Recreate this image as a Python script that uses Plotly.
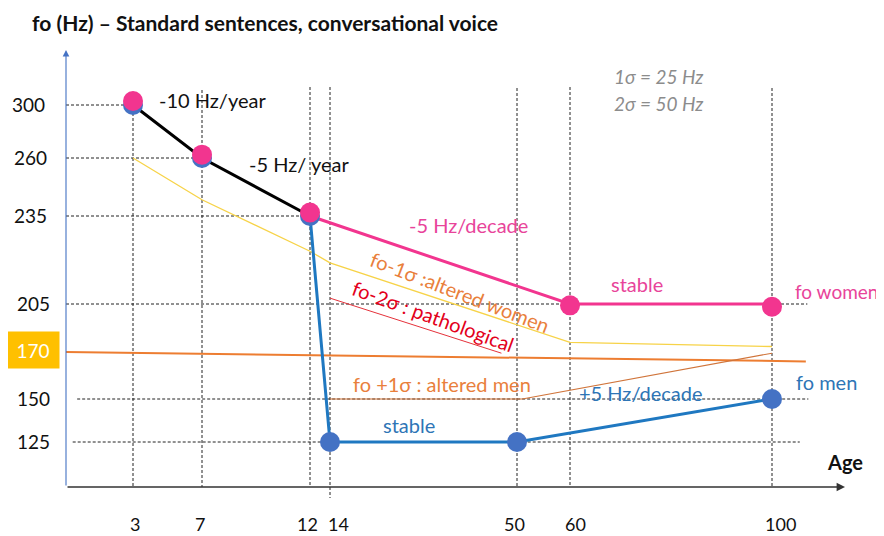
import numpy as np
import plotly.graph_objects as go

# ---------------- data ----------------
AGE_TICKS = [3, 7, 12, 14, 50, 60, 100]
AGE_TICK_LABELS = ["3", "7", "12", "14", "50", "60", "100"]
HZ_TICKS = [300, 260, 235, 205, 170, 150, 125]
HZ_TICK_LABELS = ["300", "260", "235", "205", "170", "150", "125"]

CHILD_AGES = [3, 7, 12]
CHILD_HZ = [300, 260, 235]

MEN_AGES = [12, 14, 50, 100]
MEN_HZ = [235, 125, 125, 150]
MEN_POINT_AGES = [3, 7, 12, 14, 50, 100]
MEN_POINT_HZ = [300, 260, 235, 125, 125, 150]

WOMEN_AGES = [12, 60, 100]
WOMEN_HZ = [235, 205, 205]
WOMEN_POINT_AGES = [3, 7, 12, 60, 100]
WOMEN_POINT_HZ = [303, 262.5, 236.5, 204, 203]

WOMEN_M1SD_AGES = [3, 7, 12, 14, 60, 100]
WOMEN_M1SD_HZ = [260, 242, 223, 219, 177, 174]

WOMEN_M2SD_AGES = [14, 47]
WOMEN_M2SD_HZ = [207, 169.5]

MEN_P1SD_AGES = [14, 51, 100]
MEN_P1SD_HZ = [150, 150, 169.5]

THRESH_AGES = [0, 106.7]
THRESH_HZ = [170, 166]

# ---------------- hand-drawn (non-linear) scales ----------------
_AGE_K = [0, 3, 7, 12, 14, 50, 60, 100, 110]
_AGE_P = [66, 133, 202, 310, 330, 517, 570, 772, 822.5]
_HZ_K = [100, 125, 150, 170, 205, 235, 260, 300, 320]
_HZ_P = [485, 442, 399, 352, 304, 216, 158, 105, 78.5]


def fx(a):
    return np.interp(np.asarray(a, dtype=float), _AGE_K, _AGE_P)


def fy(h):
    return np.interp(np.asarray(h, dtype=float), _HZ_K, _HZ_P)


FONT = "Lato, 'Open Sans', sans-serif"
PINK = "#F2358F"
PINK_TXT = "#E8449A"
BLUE_LINE = "#1F78C1"
BLUE_DOT = "#4472C4"
BLUE_TXT = "#2E75B6"
ORANGE = "#ED7D31"
ORANGE_TXT = "#E97F3C"
TS = 20  # general text size

fig = go.Figure()

# thin reference lines
fig.add_trace(go.Scatter(x=fx(WOMEN_M1SD_AGES), y=fy(WOMEN_M1SD_HZ), mode="lines",
                         line=dict(color="#F7D348", width=1.3), hoverinfo="skip"))
fig.add_trace(go.Scatter(x=fx(THRESH_AGES), y=fy(THRESH_HZ), mode="lines",
                         line=dict(color=ORANGE, width=2), hoverinfo="skip"))
fig.add_trace(go.Scatter(x=fx(MEN_P1SD_AGES), y=fy(MEN_P1SD_HZ), mode="lines",
                         line=dict(color="#D0743A", width=1.1), hoverinfo="skip"))
fig.add_trace(go.Scatter(x=fx(WOMEN_M2SD_AGES), y=fy(WOMEN_M2SD_HZ), mode="lines",
                         line=dict(color="#E5323B", width=1), hoverinfo="skip"))

# main curves
fig.add_trace(go.Scatter(x=fx(CHILD_AGES), y=fy(CHILD_HZ), mode="lines",
                         line=dict(color="black", width=3), hoverinfo="skip"))
fig.add_trace(go.Scatter(x=fx(WOMEN_AGES), y=fy(WOMEN_HZ), mode="lines",
                         line=dict(color=PINK, width=3), hoverinfo="skip"))
fig.add_trace(go.Scatter(x=fx(MEN_AGES), y=fy(MEN_HZ), mode="lines",
                         line=dict(color=BLUE_LINE, width=3), hoverinfo="skip"))
fig.add_trace(go.Scatter(x=fx(MEN_POINT_AGES), y=fy(MEN_POINT_HZ), mode="markers",
                         marker=dict(color=BLUE_DOT, size=20, line=dict(width=0)), hoverinfo="skip"))
fig.add_trace(go.Scatter(x=fx(WOMEN_POINT_AGES), y=fy(WOMEN_POINT_HZ), mode="markers",
                         marker=dict(color=PINK, size=20, line=dict(width=0)), hoverinfo="skip"))

# ---------------- dashed grid ----------------
shapes = []
GRID = dict(color="#222222", width=1, dash="3px,2px")
GRID_TOP = 87
X_AXIS_Y = 487
vert_tops = [fy(300) + 3, 90, GRID_TOP, GRID_TOP, 88, GRID_TOP, 88]
vert_bottoms = [X_AXIS_Y, X_AXIS_Y, X_AXIS_Y, 498, X_AXIS_Y, X_AXIS_Y, X_AXIS_Y]
for a, t, b in zip(AGE_TICKS, vert_tops, vert_bottoms):
    shapes.append(dict(type="line", xref="x", yref="y", x0=float(fx(a)), x1=float(fx(a)),
                       y0=float(t), y1=float(b), line=GRID, layer="below"))
horiz_spans = {300: (0, 3), 260: (0, 7), 235: (0, 12), 205: (0, 107),
               150: (0.5, 107.2), 125: (0.3, 105.5)}
for h, (a0, a1) in horiz_spans.items():
    shapes.append(dict(type="line", xref="x", yref="y", x0=float(fx(a0)), x1=float(fx(a1)),
                       y0=float(fy(h)), y1=float(fy(h)), line=GRID, layer="below"))

annotations = []

# axes with arrows
annotations.append(dict(x=66, y=50, ax=66, ay=X_AXIS_Y, xref="x", yref="y", axref="x", ayref="y",
                        text="", showarrow=True, arrowhead=2, arrowsize=1.2, arrowwidth=1.1,
                        arrowcolor="#4472C4"))
annotations.append(dict(x=845, y=X_AXIS_Y, ax=66, ay=X_AXIS_Y, xref="x", yref="y", axref="x", ayref="y",
                        text="", showarrow=True, arrowhead=2, arrowsize=1.2, arrowwidth=1.4,
                        arrowcolor="#333333"))

# tick labels
x_label_shift = [2, -2, -3, 8, -3, 5, 8]
for a, lab, s in zip(AGE_TICKS, AGE_TICK_LABELS, x_label_shift):
    annotations.append(dict(x=float(fx(a)) + s, y=524, xref="x", yref="y", text=lab, showarrow=False,
                            font=dict(family=FONT, size=18, color="#111111"),
                            xanchor="center", yanchor="middle"))
y_label_x = [28, 30, 30, 33, 33, 33, 33]
for h, lab, lx in zip(HZ_TICKS, HZ_TICK_LABELS, y_label_x):
    if h == 170:
        annotations.append(dict(x=33, y=float(fy(h)) - 2, xref="x", yref="y", text=lab, showarrow=False,
                                font=dict(family=FONT, size=19, color="white"),
                                bgcolor="#FFC000", width=50, height=34, borderpad=1,
                                xanchor="center", yanchor="middle"))
    else:
        annotations.append(dict(x=lx, y=float(fy(h)) - 1, xref="x", yref="y", text=lab, showarrow=False,
                                font=dict(family=FONT, size=19, color="#111111"),
                                xanchor="center", yanchor="middle"))


def txt(x, y, s, color, size=TS, anchor="left", angle=0, bold=False, italic=False):
    if bold:
        s = "<b>" + s + "</b>"
    if italic:
        s = "<i>" + s + "</i>"
    annotations.append(dict(x=x, y=y, xref="x", yref="y", text=s, showarrow=False,
                            textangle=angle, xanchor=anchor, yanchor="middle",
                            font=dict(family=FONT, size=size, color=color)))


txt(265, 22, "fo (Hz) \u2013 Standard sentences, conversational voice", "#111111", size=21,
    anchor="center", bold=True)
txt(157, 100, "-10 Hz/year", "#111111")
txt(247, 164, "-5 Hz/ year", "#111111")
txt(407, 225, "-5 Hz/decade", PINK_TXT)
txt(460, 292, "fo-1\u03c3 :altered women", ORANGE_TXT, anchor="center", angle=21)
txt(433, 316, "fo-2\u03c3 : pathological", "#E3001B", anchor="center", angle=20)
txt(609, 284, "stable", PINK_TXT)
txt(836, 291, "fo women", PINK_TXT, size=19, anchor="center")
txt(351, 384, "fo +1\u03c3 : altered men", ORANGE_TXT)
txt(577, 393, "+5 Hz/decade", BLUE_TXT)
txt(794, 382, "fo men", BLUE_TXT)
txt(381, 425, "stable", BLUE_TXT)
txt(845, 462, "Age", "#111111", size=20, anchor="center", bold=True)
txt(612, 76, "1\u03c3 = 25 Hz", "#8C8C8C", size=19, italic=True)
txt(612, 103, "2\u03c3 = 50 Hz", "#8C8C8C", size=19, italic=True)

# the page body has an 8px margin: size the figure and ranges so that
# display units coincide with window pixels
PAGE_OFF = 8
fig.update_layout(
    width=884 - PAGE_OFF, height=536 - PAGE_OFF,
    margin=dict(l=0, r=0, t=0, b=0),
    paper_bgcolor="white", plot_bgcolor="white",
    showlegend=False,
    xaxis=dict(range=[PAGE_OFF, 884], visible=False, fixedrange=True),
    yaxis=dict(range=[536, PAGE_OFF], visible=False, fixedrange=True),
    shapes=shapes,
    annotations=annotations,
)

fig.write_html("out.html")
